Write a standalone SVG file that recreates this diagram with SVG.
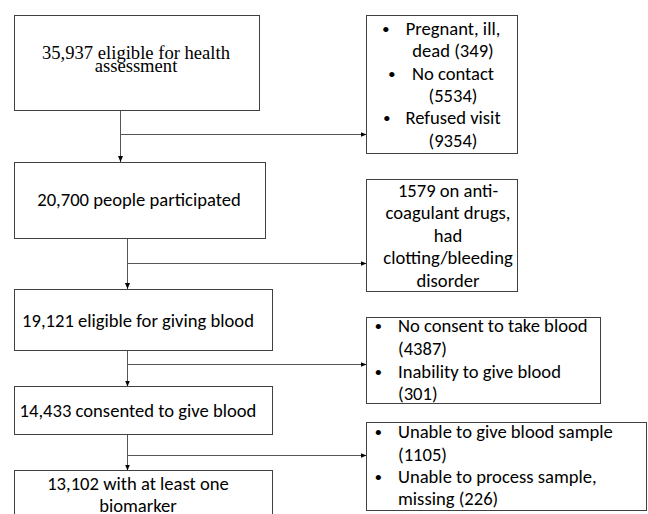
<svg xmlns="http://www.w3.org/2000/svg" width="648" height="514" viewBox="0 0 648 514">
<style>
.box{fill:#fff;stroke:#404040;stroke-width:1}
.t{font-family:Carlito,Lato,"Liberation Sans",sans-serif;font-size:18.6px;fill:#000}
.c{text-anchor:middle}
.b{font-family:Lato,"Liberation Sans",sans-serif;font-size:14px;fill:#000;text-anchor:middle}
.s{font-family:"Liberation Serif",serif;font-size:18.6px;fill:#000;text-anchor:middle}
.ln{fill:none;stroke:#555;stroke-width:1}
</style>
<defs>
<marker id="ah" viewBox="0 0 6 6" refX="6" refY="3" markerWidth="6" markerHeight="6" markerUnits="userSpaceOnUse" orient="auto">
<path d="M0,0.5 L6,3 L0,5.5 z" fill="#000"/>
</marker>
</defs>
<rect width="648" height="514" fill="#fff"/>
<g id="connectors">
<path class="ln" d="M120.5,111 V162" marker-end="url(#ah)"/>
<path class="ln" d="M120.5,134.5 H366.5" marker-end="url(#ah)"/>
<path class="ln" d="M127.5,239 V289" marker-end="url(#ah)"/>
<path class="ln" d="M127.5,263.5 H366.5" marker-end="url(#ah)"/>
<path class="ln" d="M127.5,351 V386.5" marker-end="url(#ah)"/>
<path class="ln" d="M127.5,364.5 H366.5" marker-end="url(#ah)"/>
<path class="ln" d="M127.5,435 V470.5" marker-end="url(#ah)"/>
<path class="ln" d="M127.5,455.5 H366.5" marker-end="url(#ah)"/>
</g>
<g id="n1">
<rect class="box" x="14.5" y="15.5" width="245" height="95"/>
<text class="s"><tspan x="136" y="59">35,937 eligible for health</tspan><tspan x="136" y="71.5">assessment</tspan></text>
</g>
<g id="n2">
<rect class="box" x="14.5" y="162.5" width="251" height="76"/>
<text class="t c" x="139" y="206">20,700 people participated</text>
</g>
<g id="n3">
<rect class="box" x="14.5" y="289.5" width="258" height="61"/>
<text class="t c" x="138" y="326.5">19,121 eligible for giving blood</text>
</g>
<g id="n4">
<rect class="box" x="14.5" y="386.5" width="258" height="48"/>
<text class="t c" x="138" y="416.5">14,433 consented to give blood</text>
</g>
<g id="n5">
<rect class="box" x="14.5" y="470.5" width="258" height="60"/>
<text class="t c"><tspan x="138" y="489.5">13,102 with at least one</tspan><tspan x="138" y="511.5">biomarker</tspan></text>
</g>
<g id="e1">
<rect class="box" x="366.5" y="15.5" width="151" height="138"/>
<text class="b" x="385.7" y="34">•</text>
<text class="t c" x="453" y="35">Pregnant, ill,</text>
<text class="t c" x="453" y="57.3">dead (349)</text>
<text class="b" x="391.7" y="79">•</text>
<text class="t c" x="453" y="80">No contact</text>
<text class="t c" x="453" y="102">(5534)</text>
<text class="b" x="386.7" y="123.3">•</text>
<text class="t c" x="453" y="124.3">Refused visit</text>
<text class="t c" x="453" y="146.7">(9354)</text>
</g>
<g id="e2">
<rect class="box" x="366.5" y="179.5" width="151" height="112"/>
<text class="t c" x="448" y="196.7">1579 on anti-</text>
<text class="t c" x="448" y="219.3">coagulant drugs,</text>
<text class="t c" x="448" y="241.7">had</text>
<text class="t c" x="448" y="264">clotting/bleeding</text>
<text class="t c" x="448" y="286.5">disorder</text>
</g>
<g id="e3">
<rect class="box" x="366.5" y="317.5" width="234" height="86"/>
<text class="b" x="378.3" y="331.3">•</text>
<text class="t" x="398" y="332.3">No consent to take blood</text>
<text class="t" x="398" y="354.5">(4387)</text>
<text class="b" x="378.3" y="376.5">•</text>
<text class="t" x="398" y="377.5">Inability to give blood</text>
<text class="t" x="398" y="399.5">(301)</text>
</g>
<g id="e4">
<rect class="box" x="366.5" y="422.5" width="280" height="88"/>
<text class="b" x="378.3" y="437.3">•</text>
<text class="t" x="398" y="438.3">Unable to give blood sample</text>
<text class="t" x="398" y="460.7">(1105)</text>
<text class="b" x="378.3" y="482">•</text>
<text class="t" x="398" y="483">Unable to process sample,</text>
<text class="t" x="398" y="505">missing (226)</text>
</g>
</svg>
